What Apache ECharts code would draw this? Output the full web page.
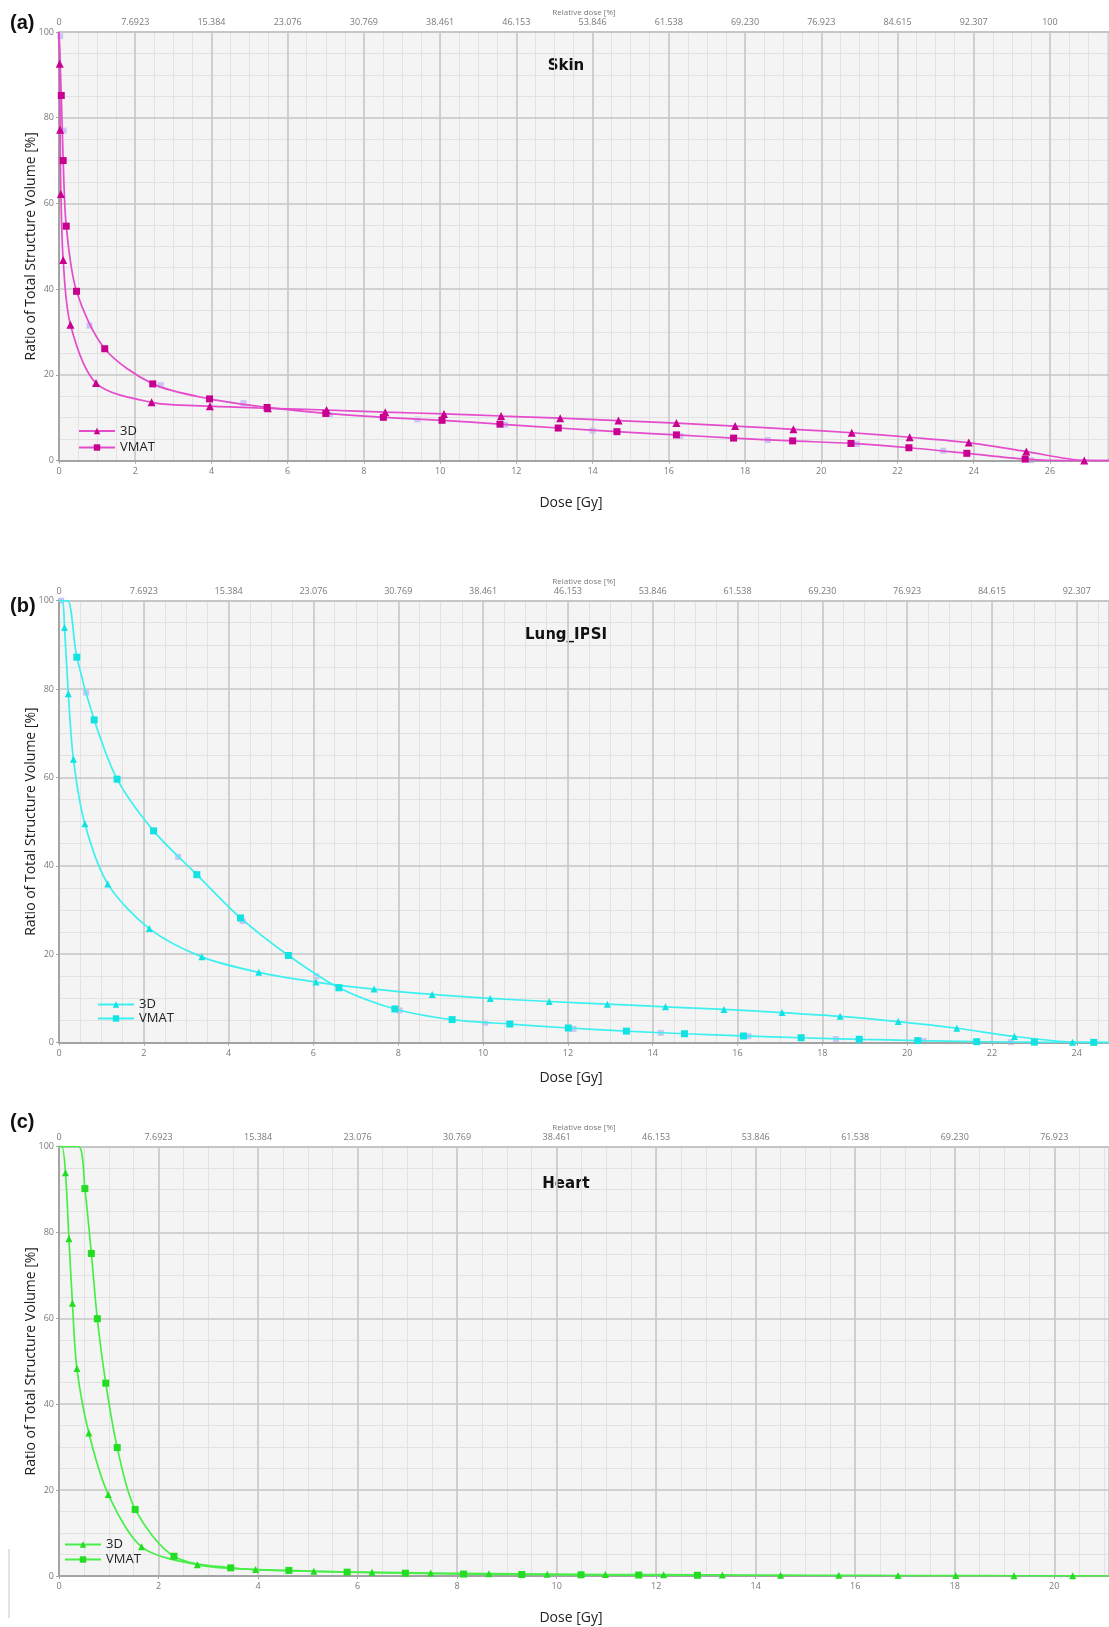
<!DOCTYPE html>
<html><head><meta charset="utf-8">
<script src="https://cdn.jsdelivr.net/npm/echarts@6/dist/echarts.min.js"></script>
<style>html,body{margin:0;padding:0;background:#fff}#c{width:1109px;height:1627px}</style>
</head><body><div id="c"></div>
<script>
// [dose Gy, volume %, (0 = point without marker)]
const skin3D = [[0,100,0],[0.02,92.6],[0.03,77.2],[0.05,62.2],[0.11,46.8],[0.3,31.7],[0.97,18.1],[2.43,13.6],[3.96,12.7],[5.48,12.2],[7.02,11.8],[8.56,11.3],[10.1,10.9],[11.6,10.4],[13.15,9.9],[14.68,9.35],[16.2,8.75],[17.74,8.05],[19.27,7.3],[20.8,6.5],[22.32,5.45],[23.87,4.2],[25.38,2.1],[26.9,0.05],[27.55,0,0]];
const skinVMAT = [[0,100,0],[0.06,85.2],[0.11,70],[0.19,54.7],[0.46,39.5],[1.2,26.1],[2.46,17.9],[3.95,14.4],[5.46,12.4],[7.0,11.0],[8.51,10.1],[10.05,9.4],[11.57,8.5],[13.1,7.6],[14.64,6.75],[16.2,6.0],[17.7,5.25],[19.25,4.6],[20.78,4.0],[22.3,3.0],[23.82,1.7],[25.35,0.35],[26.5,0,0],[27.55,0,0]];
const skinGhost = [[0.03,99],[0.12,77],[0.8,31.5],[2.67,17.6],[4.84,13.4],[7.11,10.6],[9.4,9.6],[11.7,8.4],[14.0,7.0],[16.3,5.75],[18.6,4.8],[20.94,3.9],[23.2,2.3],[25.5,0.1]];

const lung3D = [[0,100,0],[0.08,100,0],[0.13,93.9],[0.22,78.9],[0.34,64.1],[0.61,49.5],[1.15,35.9],[2.13,25.8],[3.37,19.4],[4.71,15.9],[6.06,13.7],[7.43,12.1],[8.8,10.9],[10.17,10.0],[11.56,9.3],[12.93,8.7],[14.3,8.1],[15.68,7.5],[17.05,6.8],[18.42,5.95],[19.79,4.75],[21.17,3.25],[22.53,1.4],[23.9,0.1],[24.76,0,0]];
const lungVMAT = [[0,100,0],[0.2,100,0],[0.42,87.2],[0.83,73.0],[1.37,59.6],[2.23,47.9],[3.25,38.0],[4.28,28.2],[5.41,19.7],[6.6,12.4],[7.92,7.6],[9.27,5.2],[10.63,4.2],[12.01,3.3],[13.38,2.6],[14.75,2.0],[16.14,1.5],[17.5,1.1],[18.87,0.75],[20.25,0.45],[21.64,0.2],[23.0,0.1],[24.4,0.05],[24.76,0,0]];
const lungGhost = [[0.05,100],[0.64,79.2],[2.81,42.0],[4.33,27.5],[6.07,15.0],[8.03,7.3],[10.05,4.5],[12.13,3.1],[14.19,2.2],[16.26,1.45],[18.32,0.8],[20.39,0.35],[22.45,0.1]];

const heart3D = [[0,100,0],[0.06,100,0],[0.13,93.9],[0.2,78.5],[0.27,63.5],[0.36,48.3],[0.6,33.3],[0.99,19.0],[1.66,6.8],[2.78,2.6],[3.95,1.5],[5.12,1.1],[6.29,0.85],[7.47,0.7],[8.64,0.55],[9.81,0.42],[10.98,0.35],[12.15,0.3],[13.33,0.25],[14.5,0.2],[15.67,0.16],[16.86,0.12],[18.02,0.09],[19.19,0.06],[20.37,0.03],[21.1,0,0]];
const heartVMAT = [[0,100,0],[0.39,100,0],[0.52,90.2],[0.65,75.1],[0.77,59.9],[0.94,44.9],[1.17,29.9],[1.53,15.5],[2.31,4.6],[3.45,1.9],[4.62,1.3],[5.79,0.9],[6.96,0.65],[8.13,0.45],[9.3,0.35],[10.49,0.28],[11.65,0.22],[12.83,0.17]];
const heartGhost = [];

const seriesNames = ['3D', 'VMAT'];
const topLabels = ['0','7.6923','15.384','23.076','30.769','38.461','46.153','53.846','61.538','69.230','76.923','84.615','92.307','100'];
const yAxisName = 'Ratio of Total Structure Volume [%]';
const xAxisName = 'Dose [Gy]';
const topAxisName = 'Relative dose [%]';

const panels = [
  {tag:'(a)', title:'Skin', d3:skin3D, dv:skinVMAT, ghost:skinGhost, xmax:27.55,
   top:32, height:428.6, tagY:23, titleY:66, nameGap:35, legTop:424.5, legLeft:78, legGap:3.5,
   line:'#e44ccc', mark:'#c80090', ts:8, ss:7},
  {tag:'(b)', title:'Lung_IPSI', d3:lung3D, dv:lungVMAT, ghost:lungGhost, xmax:24.76,
   top:600.6, height:442, tagY:606, titleY:635, nameGap:28.5, legTop:998, legLeft:97, legGap:1,
   line:'#3cf0f0', mark:'#12e2e2', ts:7, ss:7},
  {tag:'(c)', title:'Heart', d3:heart3D, dv:heartVMAT, ghost:heartGhost, xmax:21.1,
   top:1146.5, height:429.5, tagY:1122, titleY:1184, nameGap:35, legTop:1538, legLeft:64, legGap:2,
   line:'#48ee48', mark:'#22dd22', ts:7, ss:7}
];

const toData = arr => arr.map(p => p[2] === 0 ? {value:[p[0],p[1]], symbol:'none'} : [p[0],p[1]]);
const topFmt = v => { const k = Math.round(v/2); return Math.abs(v - 2*k) < 1e-6 && topLabels[k] !== undefined ? topLabels[k] : ''; };

const grid = [], xAxis = [], yAxis = [], series = [], legend = [], graphic = [];
const lblColor = '#7a7a7a', major = '#c6c6c6', minor = '#e2e2e2', axisCol = '#a4a4a4';

panels.forEach((p, i) => {
  grid.push({left:59, width:1050, top:p.top, height:p.height, show:true, backgroundColor:'#f4f4f4', borderWidth:0, containLabel:false, outerBoundsMode:'none'});
  xAxis.push({gridIndex:i, type:'value', position:'bottom', min:0, max:p.xmax, interval:2, z:2,
    axisLine:{show:true, onZero:false, lineStyle:{color:axisCol, width:2}},
    axisTick:{show:true, length:3, lineStyle:{color:axisCol}},
    axisLabel:{showMaxLabel:false, fontSize:9, color:lblColor, margin:6, fontFamily:'Open Sans'},
    splitLine:{show:true, lineStyle:{color:major, width:1.5}},
    name:xAxisName, nameLocation:'middle', nameGap:p.nameGap,
    nameTextStyle:{fontSize:14, color:'#222', fontFamily:'Open Sans', padding:[0,26,0,0]}});
  xAxis.push({gridIndex:i, type:'value', position:'bottom', min:0, max:p.xmax, interval:0.5, z:1,
    axisLine:{show:false}, axisTick:{show:false}, axisLabel:{show:false},
    splitLine:{show:true, lineStyle:{color:minor, width:1}}});
  xAxis.push({gridIndex:i, type:'value', position:'top', min:0, max:p.xmax, interval:2, z:2,
    axisLine:{show:true, onZero:false, lineStyle:{color:major, width:2}},
    axisTick:{show:false},
    axisLabel:{formatter:topFmt, showMaxLabel:false, fontSize:9, color:lblColor, margin:5, fontFamily:'Open Sans'},
    splitLine:{show:false},
    name:topAxisName, nameLocation:'middle', nameGap:15,
    nameTextStyle:{fontSize:8, color:lblColor, fontFamily:'Open Sans'}});
  yAxis.push({gridIndex:i, type:'value', min:0, max:100, interval:20, z:2,
    axisLine:{show:true, onZero:false, lineStyle:{color:axisCol, width:2}},
    axisTick:{show:true, length:3, lineStyle:{color:axisCol}},
    axisLabel:{fontSize:9, color:lblColor, margin:5, fontFamily:'Open Sans'},
    splitLine:{show:true, lineStyle:{color:major, width:1.5}},
    minorTick:{show:false, splitNumber:4},
    minorSplitLine:{show:true, lineStyle:{color:minor, width:1}},
    name:yAxisName, nameLocation:'middle', nameGap:21, nameMoveOverlap:false,
    nameTextStyle:{fontSize:14, color:'#222', fontFamily:'Open Sans'}});

  if (p.ghost.length) series.push({type:'scatter', xAxisIndex:3*i, yAxisIndex:i, data:p.ghost, symbol:'rect', symbolSize:6,
    itemStyle:{color:'#c5c1f4', opacity:0.9}, z:1, silent:true});
  series.push({type:'line', name:i+':'+seriesNames[0], xAxisIndex:3*i, yAxisIndex:i, data:toData(p.d3),
    smooth:0.3, symbol:'triangle', symbolSize:p.ts, showAllSymbol:true,
    lineStyle:{color:p.line, width:1.7}, itemStyle:{color:p.mark}, z:3});
  series.push({type:'line', name:i+':'+seriesNames[1], xAxisIndex:3*i, yAxisIndex:i, data:toData(p.dv),
    smooth:0.3, symbol:'rect', symbolSize:p.ss, showAllSymbol:true,
    lineStyle:{color:p.line, width:1.7}, itemStyle:{color:p.mark}, z:3});
  legend.push({data:[i+':'+seriesNames[0], i+':'+seriesNames[1]], orient:'vertical', left:p.legLeft, top:p.legTop,
    padding:0, itemWidth:36, itemHeight:8, itemGap:p.legGap, selectedMode:false,
    formatter:n => n.split(':')[1], textStyle:{fontSize:13, color:'#222', lineHeight:12, fontFamily:'Open Sans'}});
  graphic.push({type:'text', x:10, y:p.tagY, style:{text:p.tag, font:'bold 20px "Liberation Sans"', fill:'#111', verticalAlign:'middle', align:'left'}});
  graphic.push({type:'text', x:566, y:p.titleY, style:{text:p.title, font:'bold 15px "DejaVu Sans"', fill:'#111', verticalAlign:'middle', align:'center'}});
});
graphic.push({type:'line', shape:{x1:9, y1:1549, x2:9, y2:1618}, style:{stroke:'#c8c8c8', lineWidth:1}});

const chart = echarts.init(document.getElementById('c'), null, {renderer:'canvas'});
chart.setOption({animation:false, backgroundColor:'#fff', grid, xAxis, yAxis, series, legend, graphic});
</script></body></html>
